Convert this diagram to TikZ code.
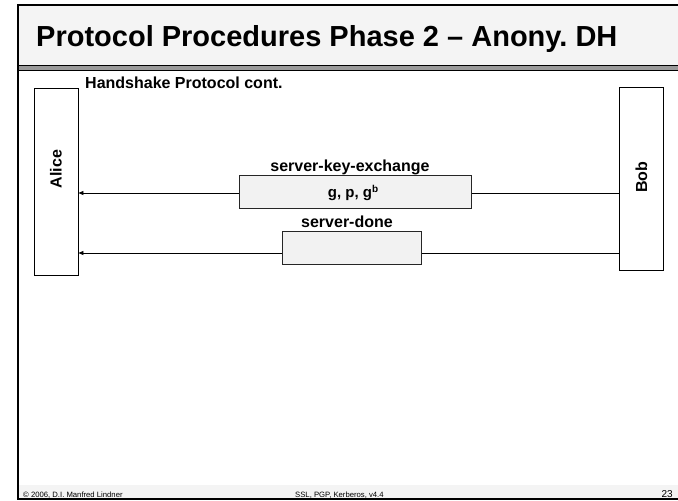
\documentclass[tikz,border=0pt]{standalone}
\usepackage{fontspec}
\setmainfont{Liberation Sans}
\frenchspacing
\usetikzlibrary{arrows.meta}
\definecolor{panelgray}{HTML}{F4F4F4}
\definecolor{bandgray}{HTML}{9A9A9A}
\definecolor{boxgray}{HTML}{F2F2F2}
\tikzset{
  party/.style={draw=black, line width=0.9pt, fill=white, minimum width=44pt, inner sep=0pt},
  partyname/.style={font=\fontsize{16}{18}\selectfont\bfseries, rotate=90, inner sep=0pt},
  msgbox/.style={draw=black!85, line width=0.9pt, fill=boxgray, minimum height=33pt, inner sep=0pt},
  msgtext/.style={font=\fontsize{15}{17}\selectfont\bfseries, anchor=base, inner sep=0pt},
  msglabel/.style={font=\fontsize{16}{18}\selectfont\bfseries, anchor=base, inner sep=0pt},
  msgarrow/.style={line width=0.9pt, -{Triangle[length=5pt,width=4pt]}},
  foot/.style={font=\fontsize{7.7}{9}\selectfont, anchor=base west, inner sep=0pt},
}
\begin{document}
\begin{tikzpicture}[x=1pt, y=-1pt]
\useasboundingbox (0,0) rectangle (678,501);
\begin{scope}
\clip (0,0) rectangle (678,501);
% title panel
\fill[panelgray] (18,5) rectangle (690,65.5);
\fill[bandgray] (18,66) rectangle (690,70);
\draw[line width=1pt] (18,65.5) -- (690,65.5);
\draw[line width=1.2pt] (18,70.5) -- (690,70.5);
% footer band
\fill[panelgray] (18,485) rectangle (690,498.5);
% outer frame
\draw[line width=1.4pt] (690,5) -- (18,5) -- (18,499) -- (690,499);
\end{scope}

\node[anchor=base west, inner sep=0pt, font=\fontsize{29}{32}\selectfont\bfseries] (title) at (36,46)
  {Protocol Procedures Phase 2 -- Anony. DH};
\node[anchor=base west, inner sep=0pt, font=\fontsize{16}{18}\selectfont\bfseries] (sub) at (85,88.5)
  {Handshake Protocol cont.};

% parties
\node[party, minimum height=187pt] (alice) at (56,181.5) {};
\node[partyname] (alicename) at (56,169) {Alice};
\node[party, minimum height=183pt] (bob) at (641.3,178.6) {};
\node[partyname] (bobname) at (641.3,177) {Bob};

% message lines
\coordinate (m1) at (0,193);
\coordinate (m2) at (0,253);
\draw[msgarrow] (bob.west |- m1) -- (alice.east |- m1);
\draw[msgarrow] (bob.west |- m2) -- (alice.east |- m2);

% message boxes
\node[msgbox, minimum width=232pt] (ske) at (355,191.5) {};
\node[msgtext] (skeparams) at (353,197.3) {g, p, g\raisebox{0.35em}{\fontsize{10}{12}\selectfont b}};
\node[msglabel] (skelabel) at (350,171.5) {server-key-exchange};
\node[msgbox, minimum width=139pt] (sd) at (351.5,247.5) {};
\node[msglabel] (sdlabel) at (347,227.7) {server-done};

% footer
\node[foot] (copy) at (23,497) {\textcopyright\ 2006, D.I. Manfred Lindner};
\node[foot] (topic) at (295,497) {SSL, PGP, Kerberos, v4.4};
\node[anchor=base east, inner sep=0pt, font=\fontsize{10}{12}\selectfont] (page) at (673,497.3) {23};
\end{tikzpicture}
\end{document}
